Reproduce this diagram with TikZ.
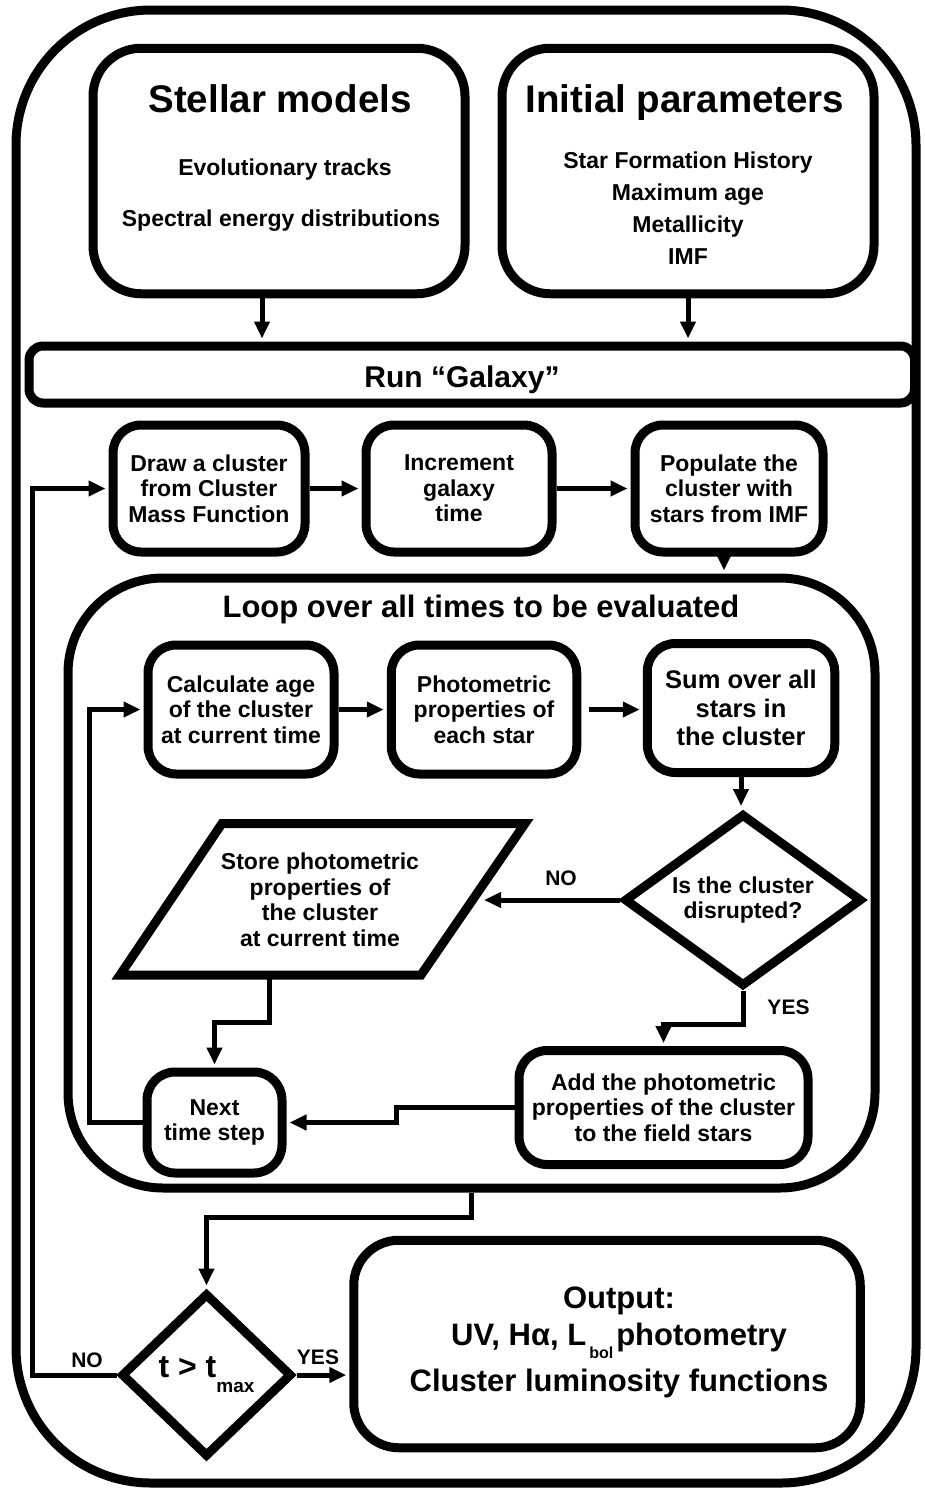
\documentclass[tikz,border=0pt]{standalone}
\usepackage{fontspec}
\setmainfont{Liberation Sans}
\usetikzlibrary{arrows.meta,shapes.geometric,calc}
\begin{document}
\begin{tikzpicture}[x=1pt,y=-1pt,
  box/.style={draw, line width=9pt, rounded corners=28pt, align=center, inner sep=0pt,
    font=\bfseries\fontsize{23}{25.5}\selectfont},
  dia/.style={draw, diamond, line width=9pt, align=center, inner sep=0pt,
    font=\bfseries\fontsize{23}{25.5}\selectfont},
  arr/.style={line width=5pt, shorten >=3pt, -{Triangle[length=17pt,width=15pt]}},
  ttl/.style={font=\bfseries\fontsize{38.5}{38.5}\selectfont, inner sep=0pt, anchor=base},
  sub/.style={font=\bfseries\fontsize{23}{23}\selectfont, inner sep=0pt, anchor=base},
  big/.style={font=\bfseries\fontsize{31}{31}\selectfont, inner sep=0pt, anchor=base},
  txt/.style={font=\bfseries\fontsize{23}{25.5}\selectfont, inner sep=0pt, align=center},
  lbl/.style={font=\bfseries\fontsize{21}{21}\selectfont, inner sep=0pt}]

\useasboundingbox (0,0) rectangle (924,1489);
% outer frame
\draw[line width=9pt, rounded corners=135pt] (16,10) rectangle (916,1483);

% top boxes
\node[box, rounded corners=48pt, minimum width=372pt, minimum height=245.5pt] (stellar) at (279,171) {};
\node[ttl] (stt) at (280,112) {Stellar models};
\node[sub] (st1) at (285,175) {Evolutionary tracks};
\node[sub] (st2) at (281,226) {Spectral energy distributions};

\node[box, rounded corners=48pt, minimum width=372pt, minimum height=245.5pt] (init) at (688,171) {};
\node[ttl] (itt) at (685,112) {Initial parameters};
\node[sub] (it1) at (688,168) {Star Formation History};
\node[sub] (it2) at (688,200) {Maximum age};
\node[sub] (it3) at (688,232) {Metallicity};
\node[sub] (it4) at (688,264) {IMF};

% run galaxy
\node[box, rounded corners=14pt, minimum width=885.5pt, minimum height=57pt] (run) at (471.75,374.5) {};
\node[font=\bfseries\fontsize{30}{30}\selectfont, inner sep=0pt, anchor=base] (runt) at (462,387) {Run “Galaxy”};

% row of three
\node[box, minimum width=192pt, minimum height=127pt] (drawc) at (209,488.5) {Draw a cluster\\from Cluster\\Mass Function};
\node[box, minimum width=186pt, minimum height=127pt] (incr) at (459,488.5) {Increment\\galaxy\\time};
\node[box, minimum width=188pt, minimum height=127pt] (popul) at (729,488.5) {Populate the\\cluster with\\stars from IMF};

% loop box
\node[box, rounded corners=95pt, minimum width=807pt, minimum height=610pt] (loop) at (471.5,883) {};
\node[big] (loopt) at (481,617) {Loop over all times to be evaluated};

\node[box, minimum width=186pt, minimum height=129pt] (calc) at (241,709.5) {Calculate age\\of the cluster\\at current time};
\node[box, minimum width=185.5pt, minimum height=129pt] (photo) at (484,709.5) {Photometric\\properties of\\each star};
\node[box, minimum width=187.5pt, minimum height=129pt, font=\bfseries\fontsize{25.5}{28.5}\selectfont] (sum) at (741,708) {Sum over all\\stars in\\the cluster};

\node[dia, minimum width=238pt, minimum height=173pt, aspect=1.38] (disr) at (743,900) {Is the cluster\\disrupted?};

% parallelogram
\draw[line width=9pt] (222,823.5) -- (525,823.5) -- (421,975) -- (120,975) -- cycle;
\node[txt] (store) at (320,900) {Store photometric\\properties of\\the cluster\\at current time};
\coordinate (storeR) at (481,900);
\coordinate (storeB) at (269,975);

\node[box, minimum width=135pt, minimum height=101pt] (next) at (214.5,1122.5) {Next\\time step};
\node[box, minimum width=289pt, minimum height=114pt] (add) at (663.5,1107.5) {Add the photometric\\properties of the cluster\\to the field stars};

% bottom
\node[dia, minimum width=171pt, minimum height=164pt, aspect=1.04, font=\bfseries\fontsize{32}{32}\selectfont] (tmax) at (206.5,1375)
  {t > t\raisebox{-15pt}{\fontsize{19}{19}\selectfont max}};
\node[box, rounded corners=45pt, minimum width=506.5pt, minimum height=207.5pt] (output) at (607,1344) {};
\node[big] (o1) at (619,1308) {Output:};
\node[big] (o2) at (619,1345) {UV, Hα, L\kern3pt\raisebox{-13pt}{\fontsize{16}{16}\selectfont bol}\kern3pt photometry};
\node[big] (o3) at (619,1391) {Cluster luminosity functions};

% connectors
\draw[arr] ([xshift=-17pt]stellar.south) -- ([xshift=-17pt]stellar.south |- run.north);
\draw[arr] (init.south) -- (init.south |- run.north);
\draw[arr] (drawc.east) -- (incr.west);
\draw[arr] (incr.east) -- (popul.west);
\draw[arr] ([xshift=-5pt]popul.south) -- ([xshift=-5pt]popul.south |- loop.north);
\draw[arr] (calc.east) -- (photo.west);
\draw[arr] ([xshift=8pt]photo.east) -- (photo.east -| sum.west);
\draw[arr] (sum.south) -- (sum.south |- disr.north);
\draw[arr] (disr.west) -- (storeR);
\node[lbl] (nolbl1) at (561,878) {NO};
\draw[arr] (disr.south) -- ++(0,33) -| (add.north);
\node[lbl] (yeslbl1) at (788.5,1007.5) {YES};
\draw[arr] (storeB) -- ++(0,47) -| (next.north);
\draw[arr] (add.west) -- ++(-118,0) |- (next.east);
\draw[arr] (next.west) -- ++(-53,0) |- (calc.west);
\draw[arr] (loop.south) -- ++(0,25) -| (tmax.north);
\draw[arr] (tmax.west) -- ++(-84,0) |- (drawc.west);
\node[lbl] (nolbl2) at (87,1360) {NO};
\draw[arr] (tmax.east) -- (tmax.east -| output.west);
\node[lbl] (yeslbl2) at (318,1357.5) {YES};
\end{tikzpicture}
\end{document}
